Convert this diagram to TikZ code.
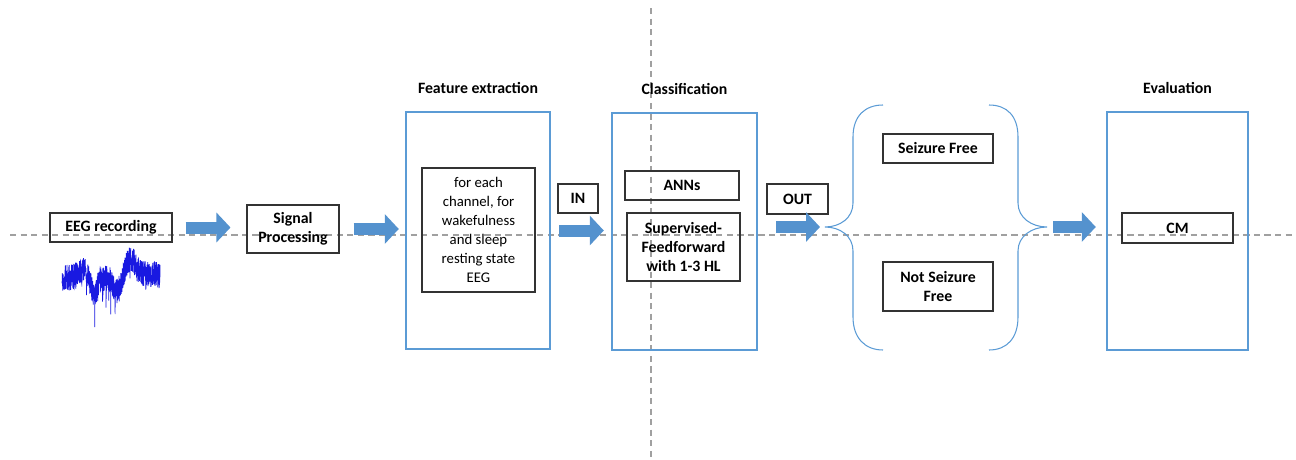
\documentclass[tikz,border=0pt]{standalone}
\usepackage{fontspec}
\setmainfont{Carlito}
\usepackage{tikz}
\usetikzlibrary{arrows.meta, positioning, calc}
\usepackage{xcolor}
\definecolor{stageblue}{RGB}{91,155,213}
\definecolor{flowblue}{RGB}{84,146,206}
\definecolor{guidegray}{RGB}{160,160,160}
\definecolor{eegblue}{RGB}{25,25,225}
\tikzset{
    txtbox/.style={draw=black!80, line width=0.6pt, align=center, inner sep=0pt,
                   font=\bfseries\fontsize{9}{10.8}\selectfont},
    stage/.style={draw=stageblue, line width=1.4pt, inner sep=0pt},
    stagetitle/.style={font=\bfseries\fontsize{9}{10.8}\selectfont, inner sep=0pt},
    flow/.style={-{Triangle[length=0.28cm, width=0.58cm]}, line width=0.24cm, flowblue},
    bracket/.style={draw=stageblue, line width=0.6pt},
    guide/.style={guidegray, line width=0.6pt, dash pattern=on 3.5pt off 2.5pt},
}

\begin{document}
\begin{tikzpicture}[x=0.02cm, y=-0.02cm]
        \useasboundingbox (0,0) rectangle (1296,460);
        % guide lines
        \draw[guide] (10,235) -- (1296,235);
        \draw[guide] (651,8) -- (651,460);
        % stages
        \node[txtbox, minimum width=2.44cm, minimum height=0.58cm] (eeg) at (111,227.5) {EEG recording};
        \node[txtbox, minimum width=1.84cm, minimum height=0.96cm] (sig) at (293,229) {Signal\\Processing};
        \node[stage, minimum width=2.88cm, minimum height=4.74cm] (fe) at (478,230.5) {};
        \node[txtbox, font=\fontsize{8.4}{10.8}\selectfont, minimum width=2.26cm, minimum height=2.48cm] (feat) at (478.5,230)
            {for each\\channel, for\\wakefulness\\and sleep\\resting state\\EEG};
        \node[txtbox, minimum width=0.80cm, minimum height=0.58cm] (in) at (578,198.5) {IN};
        \node[stage, minimum width=2.90cm, minimum height=4.74cm] (cls) at (684.5,231.5) {};
        \node[txtbox, minimum width=2.28cm, minimum height=0.58cm] (ann) at (682,185.5) {ANNs};
        \node[txtbox, minimum width=2.26cm, minimum height=1.36cm] (sup) at (683.5,247) {Supervised-\\Feedforward\\with 1-3 HL};
        \node[txtbox, minimum width=1.22cm, minimum height=0.60cm] (out) at (797.5,199) {OUT};
        \node[txtbox, minimum width=2.20cm, minimum height=0.58cm] (sf) at (938,148.5) {Seizure Free};
        \node[txtbox, minimum width=2.20cm, minimum height=0.98cm] (nsf) at (938,286.5) {Not Seizure\\Free};
        \node[stage, minimum width=2.82cm, minimum height=4.76cm] (ev) at (1177.5,231) {};
        \node[txtbox, minimum width=2.22cm, minimum height=0.60cm] (cm) at (1177.5,228) {CM};
        % titles
        \node[stagetitle, above=0.34cm of fe] (fetitle) {Feature extraction};
        \node[stagetitle, above=0.34cm of cls] (clstitle) {Classification};
        \node[stagetitle, above=0.34cm of ev] (evtitle) {Evaluation};
        % braces
        \coordinate (lbrace) at (825,227);
        \coordinate (rbrace) at (1047,227);
        \draw[bracket] (883,105) .. controls (865,105) and (853,116) .. (853,137) -- (853,203)
            .. controls (853,218) and (840,227) .. (lbrace)
            .. controls (840,227) and (853,236) .. (853,251) -- (853,317)
            .. controls (853,338) and (865,350) .. (883,350);
        \draw[bracket] (989,105) .. controls (1007,105) and (1018,116) .. (1018,137) -- (1018,203)
            .. controls (1018,218) and (1032,227) .. (rbrace)
            .. controls (1032,227) and (1018,236) .. (1018,251) -- (1018,317)
            .. controls (1018,338) and (1007,350) .. (989,350);
        % block arrows
        \draw[flow, shorten <=0.26cm, shorten >=0.32cm] (eeg.east) -- (eeg.east -| sig.west);
        \draw[flow, shorten <=0.28cm, shorten >=0.12cm] (sig.east) -- (sig.east -| fe.west);
        \draw[flow, shorten <=0.16cm, shorten >=0.14cm] (fe.east) -- (fe.east -| cls.west);
        \draw[flow, shorten <=0.36cm, shorten >=0.10cm] (cls.east |- lbrace) -- (lbrace);
        \draw[flow, shorten <=0.12cm, shorten >=0.20cm] (rbrace) -- (rbrace -| ev.west);
        % eeg trace
        \pgfmathsetseed{11}
        \draw[eegblue, line width=0.4pt] plot[samples=800, domain=62:160]
            (\x, {278 - 8*exp(-((\x-82)/7)^2) + 16*exp(-((\x-94)/4)^2) + 14*exp(-((\x-117)/5)^2)
                  - 20*exp(-((\x-131)/7)^2) - 4*(\x>138) + 13*rand + 260*max(0,rand-0.9)});
    \end{tikzpicture}
\end{document}
